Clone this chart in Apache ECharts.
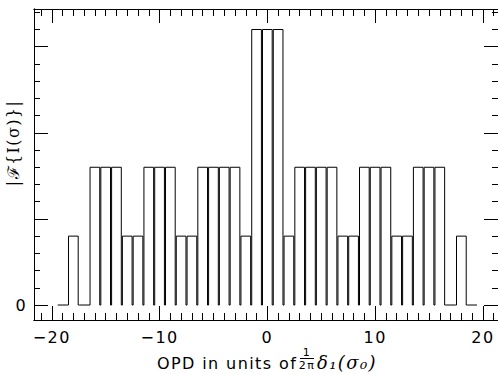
<!DOCTYPE html>
<html>
<head>
<meta charset="utf-8">
<script src="https://cdn.jsdelivr.net/npm/echarts@6/dist/echarts.min.js"></script>
<style>
  html, body { margin: 0; padding: 0; background: #fff; }
  #chart { width: 498px; height: 374px; }
  #chart text { letter-spacing: 1.4px; }
</style>
</head>
<body>
<div id="chart"></div>
<script>
// bins of the |F{I(sigma)}| histogram, one unit wide, centred on integers
const binCenters = [-19, -18, -17, -16, -15, -14, -13, -12, -11, -10, -9, -8, -7, -6, -5, -4, -3, -2, -1,
  0, 1, 2, 3, 4, 5, 6, 7, 8, 9, 10, 11, 12, 13, 14, 15, 16, 17, 18, 19];
const binValues = [0, 4, 0, 8, 8, 8, 4, 4, 8, 8, 8, 4, 4, 8, 8, 8, 8, 4, 16,
  16, 16, 4, 8, 8, 8, 8, 4, 4, 8, 8, 8, 4, 4, 8, 8, 8, 0, 4, 0];
const xMinorTicks = [-21, -20, -19, -18, -17, -16, -15, -14, -13, -12, -11, -10, -9, -8, -7, -6, -5, -4, -3, -2, -1,
  0, 1, 2, 3, 4, 5, 6, 7, 8, 9, 10, 11, 12, 13, 14, 15, 16, 17, 18, 19, 20, 21];
const xMajorTicks = [-20, -10, 0, 10, 20];
const yMinorTicks = [0, 1, 2, 3, 4, 5, 6, 7, 8, 9, 10, 11, 12, 13, 14, 15, 16, 17];
const yMajorTicks = [0, 5, 10, 15];
const yTickLabels = [0];

const chart = echarts.init(document.getElementById("chart"), null, { renderer: "svg" });

const binWidth = 1;
const gap = 0.05;
let stepData = [];
for (let i = 0; i < binCenters.length; i++) {
  const l = binCenters[i] - binWidth / 2 + gap;
  const r = binCenters[i] + binWidth / 2 - gap;
  stepData.push([l, 0], [l, binValues[i]], [r, binValues[i]], [r, 0]);
}

const xMin = -21.65, xMax = 21.4;
const yMin = -0.87, yMax = 17.19;
const black = "#000";
const font = "DejaVu Sans";

function xAxisDef(pos, ticks, len, labels) {
  return {
    type: "value",
    position: pos,
    min: xMin,
    max: xMax,
    splitLine: { show: false },
    axisLine: { show: true, onZero: false, lineStyle: { color: black, width: 1 } },
    axisTick: { show: true, inside: true, length: len, customValues: ticks, lineStyle: { color: black, width: 1 } },
    axisLabel: labels ? {
      show: true,
      customValues: labels,
      margin: 9,
      color: black,
      fontSize: 16,
      fontFamily: font,
      formatter: (v) => String(v).replace("-", "\u2212"),
    } : { show: false },
  };
}

function yAxisDef(pos, ticks, len, labels) {
  return {
    type: "value",
    position: pos,
    min: yMin,
    max: yMax,
    splitLine: { show: false },
    axisLine: { show: true, onZero: false, lineStyle: { color: black, width: 1 } },
    axisTick: { show: true, inside: true, length: len, customValues: ticks, lineStyle: { color: black, width: 1 } },
    axisLabel: labels ? {
      show: true,
      customValues: labels,
      margin: 7,
      color: black,
      fontSize: 16,
      fontFamily: font,
    } : { show: false },
  };
}

const options = {
  animation: false,
  backgroundColor: "#fff",
  grid: { left: 34, right: 0, top: 9, bottom: 54 },
  xAxis: [
    xAxisDef("bottom", xMinorTicks, 7, null),
    xAxisDef("bottom", xMajorTicks, 14, xMajorTicks),
    xAxisDef("top", xMinorTicks, 7, null),
    xAxisDef("top", xMajorTicks, 14, null),
  ],
  yAxis: [
    yAxisDef("left", yMinorTicks, 6, null),
    yAxisDef("left", yMajorTicks, 14, yTickLabels),
    yAxisDef("right", yMinorTicks, 6, null),
    yAxisDef("right", yMajorTicks, 14, null),
  ],
  series: [
    {
      type: "line",
      xAxisIndex: 0,
      yAxisIndex: 0,
      data: stepData,
      symbol: "none",
      lineStyle: { color: black, width: 1 },
    },
  ],
  graphic: [
    // x axis title: OPD in units of (1/2pi) delta_1(sigma_0)
    {
      type: "text",
      left: 157,
      top: 355,
      style: { text: "OPD in units of", font: "16px DejaVu Sans", fill: black },
    },
    {
      type: "text",
      x: 307,
      y: 352,
      style: { text: "1", font: "11px DejaVu Sans", fill: black, align: "center", verticalAlign: "middle" },
    },
    {
      type: "line",
      shape: { x1: 300, y1: 358.5, x2: 314, y2: 358.5 },
      style: { stroke: black, lineWidth: 1 },
    },
    {
      type: "text",
      x: 307,
      y: 365,
      style: { text: "2\u03c0", font: "11px DejaVu Sans", fill: black, align: "center", verticalAlign: "middle" },
    },
    {
      type: "text",
      x: 317,
      y: 362,
      style: {
        text: "\u03b4\u2081(\u03c3\u2080)",
        font: "italic 18px DejaVu Serif",
        fill: black,
        verticalAlign: "middle",
      },
    },
    // y axis title
    {
      type: "text",
      x: 13,
      y: 143,
      rotation: Math.PI / 2,
      style: {
        text: "|\u2131{I(\u03c3)}|",
        font: "16px DejaVu Serif",
        fill: black,
        align: "center",
        verticalAlign: "middle",
      },
    },
  ],
};
chart.setOption(options);
</script>
</body>
</html>
